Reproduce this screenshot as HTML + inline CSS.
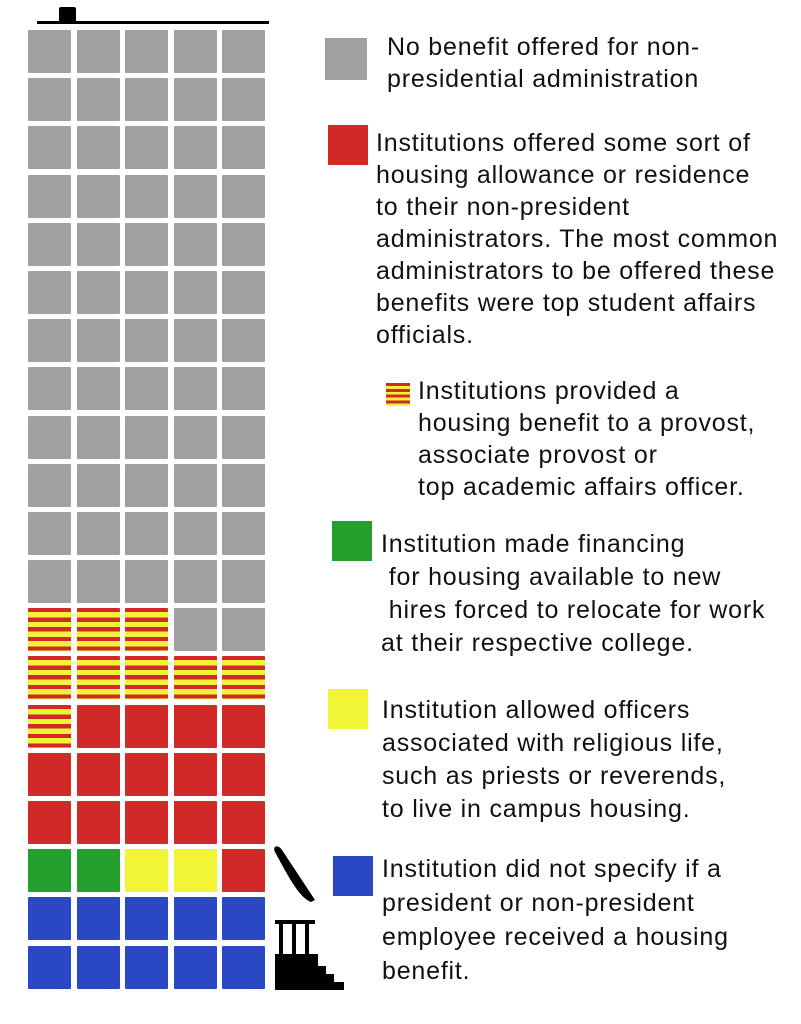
<!DOCTYPE html>
<html><head><meta charset="utf-8">
<style>
body{margin:0;background:#fff;}
#c{position:relative;width:801px;height:1024px;overflow:hidden;background:#fff;font-family:"Liberation Sans",sans-serif;color:#111;}
.grid{position:absolute;left:28px;top:30px;display:grid;grid-template-columns:repeat(5,43px);grid-template-rows:repeat(20,43px);column-gap:5.5px;row-gap:5.2px;}
.grid div{border-radius:1px;}
.g{background:#a0a0a0}.r{background:#d22828}.n{background:#249e2c}.y{background:#f2f535}.b{background:#2b48c4}
.s{background:repeating-linear-gradient(to bottom,#d22828 0,#d22828 4.2px,#f2f535 4.2px,#f2f535 9.6px);}
.t{position:absolute;font-size:25px;letter-spacing:0.8px;line-height:32px;white-space:pre;}
.sq{position:absolute;}
</style></head><body><div id="c">
<div style="position:absolute;left:37px;top:21px;width:232px;height:3px;background:#000"></div>
<div style="position:absolute;left:59px;top:7px;width:17px;height:15px;background:#000;border-radius:2px"></div>
<div class="grid">
<div class="g"></div><div class="g"></div><div class="g"></div><div class="g"></div><div class="g"></div>
<div class="g"></div><div class="g"></div><div class="g"></div><div class="g"></div><div class="g"></div>
<div class="g"></div><div class="g"></div><div class="g"></div><div class="g"></div><div class="g"></div>
<div class="g"></div><div class="g"></div><div class="g"></div><div class="g"></div><div class="g"></div>
<div class="g"></div><div class="g"></div><div class="g"></div><div class="g"></div><div class="g"></div>
<div class="g"></div><div class="g"></div><div class="g"></div><div class="g"></div><div class="g"></div>
<div class="g"></div><div class="g"></div><div class="g"></div><div class="g"></div><div class="g"></div>
<div class="g"></div><div class="g"></div><div class="g"></div><div class="g"></div><div class="g"></div>
<div class="g"></div><div class="g"></div><div class="g"></div><div class="g"></div><div class="g"></div>
<div class="g"></div><div class="g"></div><div class="g"></div><div class="g"></div><div class="g"></div>
<div class="g"></div><div class="g"></div><div class="g"></div><div class="g"></div><div class="g"></div>
<div class="g"></div><div class="g"></div><div class="g"></div><div class="g"></div><div class="g"></div>
<div class="s"></div><div class="s"></div><div class="s"></div><div class="g"></div><div class="g"></div>
<div class="s"></div><div class="s"></div><div class="s"></div><div class="s"></div><div class="s"></div>
<div class="s"></div><div class="r"></div><div class="r"></div><div class="r"></div><div class="r"></div>
<div class="r"></div><div class="r"></div><div class="r"></div><div class="r"></div><div class="r"></div>
<div class="r"></div><div class="r"></div><div class="r"></div><div class="r"></div><div class="r"></div>
<div class="n"></div><div class="n"></div><div class="y"></div><div class="y"></div><div class="r"></div>
<div class="b"></div><div class="b"></div><div class="b"></div><div class="b"></div><div class="b"></div>
<div class="b"></div><div class="b"></div><div class="b"></div><div class="b"></div><div class="b"></div>
</div>
<svg style="position:absolute;left:270px;top:840px" width="80" height="160">
<path d="M5 12 C2 6 8 4 12 10 L45 60 L41 62 C30 58 20 40 5 12Z" fill="#000"/>
<rect x="5" y="80" width="40" height="4" fill="#000"/>
<rect x="9" y="80" width="4" height="36" fill="#000"/>
<rect x="22" y="80" width="4" height="36" fill="#000"/>
<rect x="35" y="80" width="4" height="36" fill="#000"/>
<path d="M5 114 L48 114 L48 126 L56 126 L56 134 L64 134 L64 142 L74 142 L74 150 L5 150Z" fill="#000"/>
</svg>
<div class="sq g" style="left:325px;top:38px;width:42px;height:42px"></div>
<div class="t" style="left:387px;top:31px">No benefit offered for non-
presidential administration</div>
<div class="sq r" style="left:328px;top:125px;width:40px;height:40px"></div>
<div class="t" style="left:376px;top:127px">Institutions offered some sort of
housing allowance or residence
to their non-president
administrators. The most common
administrators to be offered these
benefits were top student affairs
officials.</div>
<div class="sq s" style="left:386px;top:383px;width:24px;height:23px;background:repeating-linear-gradient(to bottom,#d22828 0,#d22828 3px,#f2f535 3px,#f2f535 5.8px)"></div>
<div class="t" style="left:418px;top:375px">Institutions provided a
housing benefit to a provost,
associate provost or
top academic affairs officer.</div>
<div class="sq n" style="left:332px;top:521px;width:40px;height:40px"></div>
<div class="t" style="left:381px;top:528px;line-height:33px">Institution made financing
 for housing available to new
 hires forced to relocate for work
at their respective college.</div>
<div class="sq y" style="left:328px;top:689px;width:40px;height:40px"></div>
<div class="t" style="left:382px;top:694px;line-height:33px">Institution allowed officers
associated with religious life,
such as priests or reverends,
to live in campus housing.</div>
<div class="sq b" style="left:333px;top:856px;width:40px;height:40px"></div>
<div class="t" style="left:382px;top:852px;line-height:34px">Institution did not specify if a
president or non-president
employee received a housing
benefit.</div>
</div></body></html>
